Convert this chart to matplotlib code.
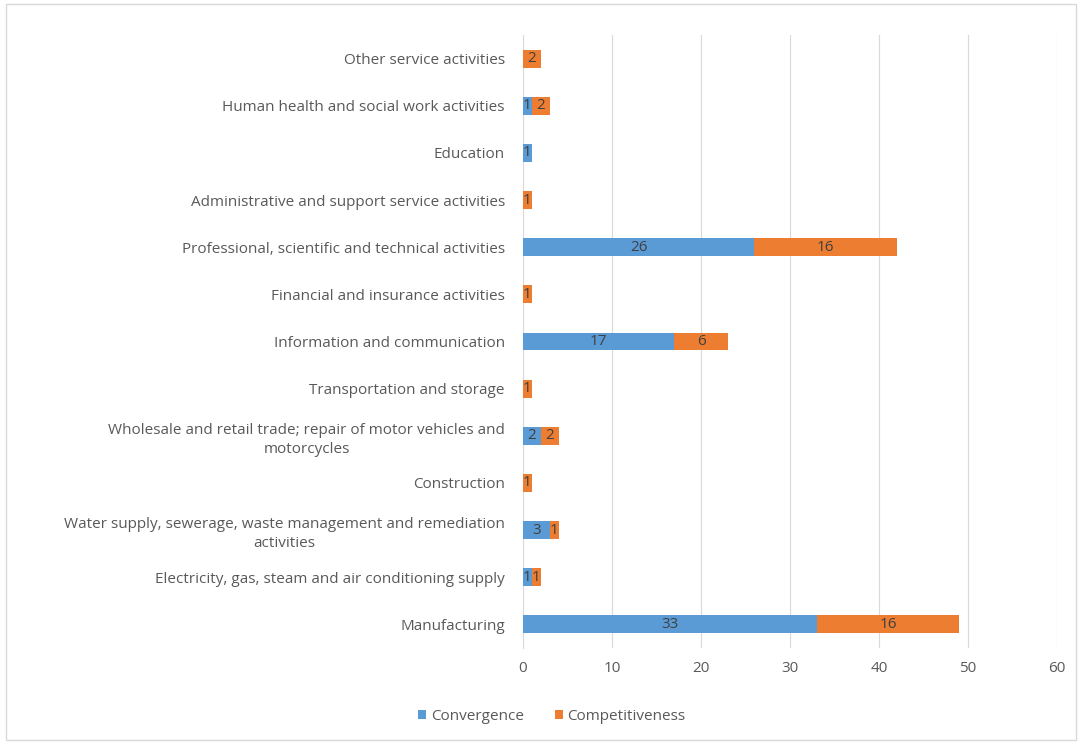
import matplotlib
matplotlib.use("Agg")
import matplotlib.pyplot as plt
from matplotlib.patches import Rectangle

categories = [
    "Manufacturing",
    "Electricity, gas, steam and air conditioning supply",
    "Water supply, sewerage, waste management and remediation\nactivities",
    "Construction",
    "Wholesale and retail trade; repair of motor vehicles and\nmotorcycles",
    "Transportation and storage",
    "Information and communication",
    "Financial and insurance activities",
    "Professional, scientific and technical activities",
    "Administrative and support service activities",
    "Education",
    "Human health and social work activities",
    "Other service activities",
]
convergence = [33, 1, 3, 0, 2, 0, 17, 0, 26, 0, 1, 1, 0]
competitiveness = [16, 1, 1, 1, 2, 1, 6, 1, 16, 1, 0, 2, 2]
xticks = [0, 10, 20, 30, 40, 50, 60]

plt.rcParams['font.family'] = ['Open Sans', 'DejaVu Sans']
text_color = "#595959"
blue = "#5B9BD5"
orange = "#ED7D31"
fs = 11

fig = plt.figure(figsize=(10.82, 7.44), dpi=100)
ax = fig.add_axes([0.4834, 0.129, 0.4935, 0.824])

y = list(range(len(categories)))
h = 0.38
b1 = ax.barh(y, convergence, height=h, color=blue, label="Convergence", zorder=3)
b2 = ax.barh(y, competitiveness, left=convergence, height=h, color=orange,
             label="Competitiveness", zorder=3)

for vals, lefts in ((convergence, [0]*len(y)), (competitiveness, convergence)):
    for i, (v, l) in enumerate(zip(vals, lefts)):
        if v > 0:
            ax.text(l + v / 2, i, str(v), ha="center", va="center",
                    fontsize=fs, color="#404040", zorder=4)

ax.set_ylim(-0.5, len(categories) - 0.5)
ax.set_xlim(0, 60)
ax.set_xticks(xticks)
ax.set_xticklabels([str(t) for t in xticks])
ax.set_yticks(y)
ax.set_yticklabels(categories, multialignment="center", linespacing=1.35)
ax.tick_params(axis="both", length=0, colors=text_color, labelsize=fs)
ax.tick_params(axis="y", pad=13)
ax.tick_params(axis="x", pad=9)
ax.grid(axis="x", color="#D9D9D9", linewidth=0.8, zorder=0)
for s in ("top", "right", "bottom"):
    ax.spines[s].set_visible(False)
ax.spines["left"].set_color("#D9D9D9")
ax.spines["left"].set_linewidth(0.8)

leg = fig.legend(handles=[b1, b2], labels=["Convergence", "Competitiveness"],
                 loc="center", bbox_to_anchor=(0.51, 0.037), ncol=2, frameon=False,
                 fontsize=fs, handlelength=0.55, handleheight=0.55, handletextpad=0.3,
                 columnspacing=2.0)
for t in leg.get_texts():
    t.set_color(text_color)

fig.patches.append(Rectangle((0.006, 0.006), 0.988, 0.988, transform=fig.transFigure,
                             fill=False, edgecolor="#D9D9D9", linewidth=1))

fig.savefig("out.png", dpi=100, facecolor="white")
